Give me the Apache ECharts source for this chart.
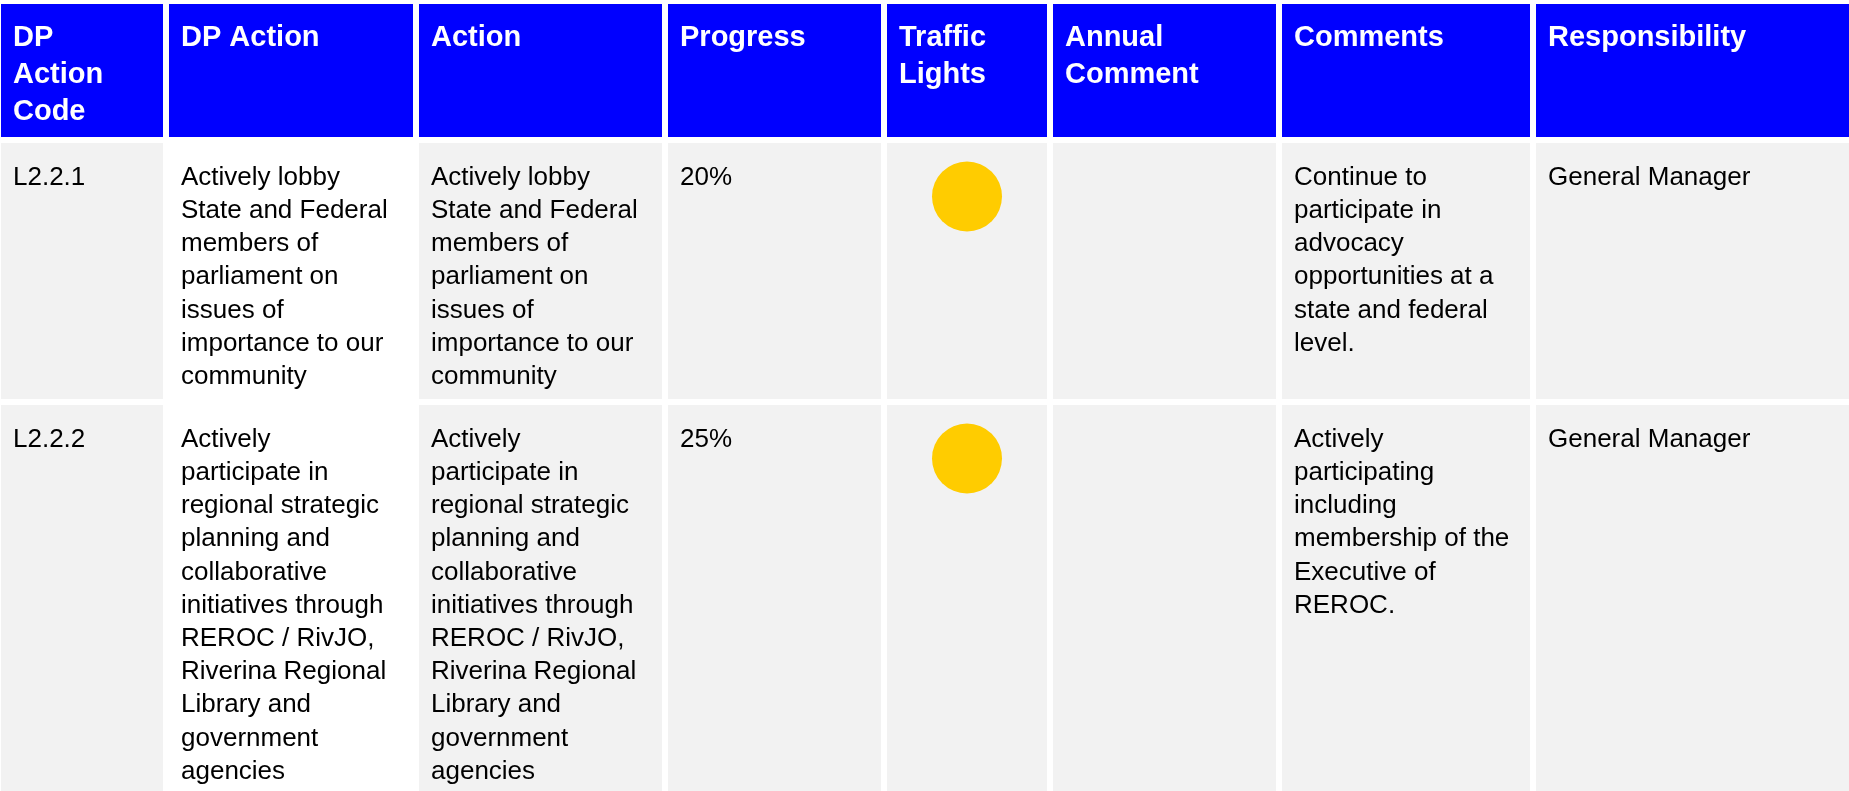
<!DOCTYPE html>
<html>
<head>
<meta charset="utf-8">
<script src="https://cdn.jsdelivr.net/npm/echarts@6/dist/echarts.min.js"></script>
<style>
html,body{margin:0;padding:0;background:#fff;}
#chart{width:1849px;height:791px;}
</style>
</head>
<body>
<div id="chart"></div>
<script>
// ---- data ----
const columns = ['DP\nAction\nCode', 'DP Action', 'Action', 'Progress', 'Traffic\nLights', 'Annual\nComment', 'Comments', 'Responsibility'];
const codes = ['L2.2.1', 'L2.2.2'];
const dpActions = [
  'Actively lobby\nState and Federal\nmembers of\nparliament on\nissues of\nimportance to our\ncommunity',
  'Actively\nparticipate in\nregional strategic\nplanning and\ncollaborative\ninitiatives through\nREROC / RivJO,\nRiverina Regional\nLibrary and\ngovernment\nagencies'
];
const actions = [
  'Actively lobby\nState and Federal\nmembers of\nparliament on\nissues of\nimportance to our\ncommunity',
  'Actively\nparticipate in\nregional strategic\nplanning and\ncollaborative\ninitiatives through\nREROC / RivJO,\nRiverina Regional\nLibrary and\ngovernment\nagencies'
];
const progress = [20, 25];
const trafficLights = ['amber', 'amber'];
const annualComments = ['', ''];
const comments = [
  'Continue to\nparticipate in\nadvocacy\nopportunities at a\nstate and federal\nlevel.',
  'Actively\nparticipating\nincluding\nmembership of the\nExecutive of\nREROC.'
];
const responsibility = ['General Manager', 'General Manager'];

// ---- layout (pixel grid of the table) ----
const W = 1849, H = 791;
const colLefts  = [1, 169, 419, 668, 887, 1053, 1282, 1536];
const colRights = [163, 413, 662, 881, 1047, 1276, 1530, 1849];
const rowTops    = [4, 143, 405];
const rowBottoms = [137, 399, 791];
const lightColors = { amber: '#FFCC00', green: '#00B050', red: '#FF0000' };

function cellText(c, r) {
  if (r === 0) return columns[c];
  const i = r - 1;
  switch (c) {
    case 0: return codes[i];
    case 1: return dpActions[i];
    case 2: return actions[i];
    case 3: return progress[i] + '%';
    case 4: return '';
    case 5: return annualComments[i];
    case 6: return comments[i];
    case 7: return responsibility[i];
  }
  return '';
}

const cells = [];
for (let r = 0; r <= codes.length; r++) {
  for (let c = 0; c < columns.length; c++) cells.push([c, r]);
}

const chart = echarts.init(document.getElementById('chart'), null, { renderer: 'canvas' });
chart.setOption({
  animation: false,
  backgroundColor: '#ffffff',
  grid: { left: 0, right: 0, top: 0, bottom: 0 },
  xAxis: { type: 'value', min: 0, max: W, show: false },
  yAxis: { type: 'value', min: 0, max: H, inverse: true, show: false },
  series: [{
    type: 'custom',
    data: cells,
    clip: false,
    renderItem: function (params, api) {
      const c = api.value(0), r = api.value(1);
      const p0 = api.coord([colLefts[c], rowTops[r]]);
      const p1 = api.coord([colRights[c], rowBottoms[r]]);
      const header = r === 0;
      const fill = header ? '#0000FF' : (c === 1 ? '#FFFFFF' : '#F2F2F2');
      const children = [{
        type: 'rect',
        shape: { x: p0[0], y: p0[1], width: p1[0] - p0[0], height: p1[1] - p0[1] },
        style: { fill: fill }
      }];
      const t = cellText(c, r);
      if (t) {
        children.push({
          type: 'text',
          x: p0[0] + 12,
          y: p0[1] + (header ? 16 : 18),
          style: {
            text: t,
            fill: header ? '#FFFFFF' : '#000000',
            fontFamily: '"Liberation Sans", Arial, sans-serif',
            fontSize: header ? 29 : 26,
            fontWeight: header ? 'bold' : 'normal',
            lineHeight: header ? 36.6 : 33.2,
            align: 'left',
            verticalAlign: 'top'
          }
        });
      }
      if (!header && c === 4) {
        const light = trafficLights[r - 1];
        children.push({
          type: 'circle',
          shape: { cx: (p0[0] + p1[0]) / 2, cy: p0[1] + 53.5, r: 35 },
          style: { fill: lightColors[light] }
        });
      }
      return { type: 'group', children: children };
    }
  }]
});
</script>
</body>
</html>
